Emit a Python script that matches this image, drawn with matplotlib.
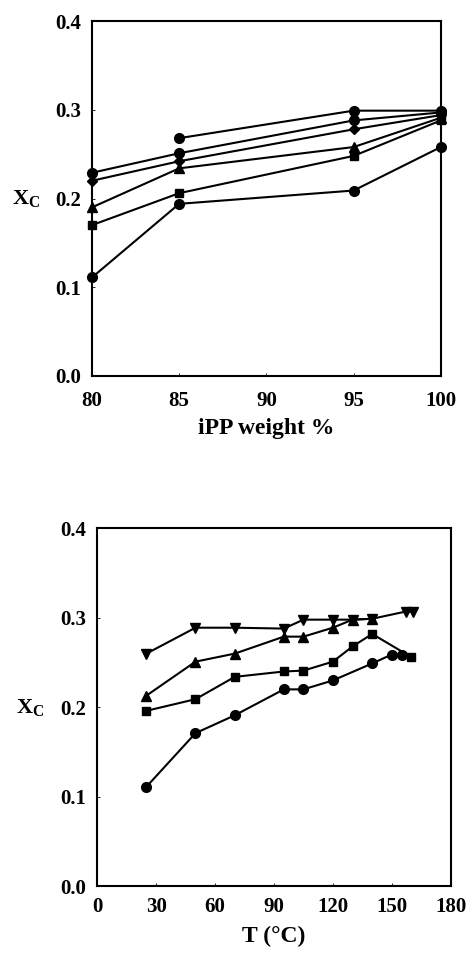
import matplotlib
matplotlib.use('Agg')
import matplotlib.pyplot as plt

plt.rcParams['font.family'] = ['Liberation Serif', 'DejaVu Serif']
plt.rcParams['font.weight'] = 'bold'
plt.rcParams['mathtext.fontset'] = 'custom'
plt.rcParams['mathtext.rm'] = 'Liberation Serif:bold'
plt.rcParams['mathtext.it'] = 'Liberation Serif:bold'
plt.rcParams['mathtext.bf'] = 'Liberation Serif:bold'

# Top panel: crystallinity vs iPP content
wt = [80, 85, 95, 100]
top_series = [
    ('o', [None, 0.268, 0.299, 0.299]),
    ('o', [0.229, 0.251, 0.288, 0.297]),
    ('D', [0.220, 0.242, 0.278, 0.294]),
    ('^', [0.190, 0.234, 0.258, 0.291]),
    ('s', [0.170, 0.206, 0.248, 0.288]),
    ('o', [0.111, 0.194, 0.209, 0.258]),
]
wt_ticks = [80, 85, 90, 95, 100]

# Bottom panel: crystallinity vs temperature
t_down = [25, 50, 70, 95, 105, 120, 130, 140, 157, 161]
xc_down = [0.260, 0.289, 0.289, 0.288, 0.298, 0.298, 0.298, 0.299, 0.307, 0.307]
t_up = [25, 50, 70, 95, 105, 120, 130, 140]
xc_up = [0.213, 0.251, 0.260, 0.279, 0.279, 0.289, 0.298, 0.299]
t_sq = [25, 50, 70, 95, 105, 120, 130, 140, 160]
xc_sq = [0.196, 0.209, 0.234, 0.240, 0.241, 0.251, 0.268, 0.282, 0.256]
t_circ = [25, 50, 70, 95, 105, 120, 140, 150, 155]
xc_circ = [0.111, 0.171, 0.191, 0.220, 0.220, 0.230, 0.249, 0.259, 0.258]
t_ticks = [0, 30, 60, 90, 120, 150, 180]
xc_ticks = [0.0, 0.1, 0.2, 0.3, 0.4]

fig = plt.figure(figsize=(4.69, 9.56), dpi=100)
ax1 = fig.add_axes([0.196, 0.6067, 0.744, 0.3713])
ax2 = fig.add_axes([0.2075, 0.0732, 0.7535, 0.374])

msize = {'o': 7, 'D': 5.5, '^': 6.5, 's': 6, 'v': 6.5}

for mk, vals in top_series:
    xs = [x for x, v in zip(wt, vals) if v is not None]
    ys = [v for v in vals if v is not None]
    ax1.plot(xs, ys, color='black', lw=1.5, marker=mk, ms=msize[mk],
             clip_on=False, zorder=3)

ax2.plot(t_down, xc_down, color='black', lw=1.5, marker='v', ms=msize['v'], clip_on=False)
ax2.plot(t_up, xc_up, color='black', lw=1.5, marker='^', ms=msize['^'], clip_on=False)
ax2.plot(t_circ, xc_circ, color='black', lw=1.5, marker='o', ms=msize['o'], clip_on=False)
ax2.plot(t_sq, xc_sq, color='black', lw=1.5, marker='s', ms=msize['s'], clip_on=False)

ax1.set_xlim(80, 100)
ax1.set_xticks(wt_ticks)
ax2.set_xlim(0, 180)
ax2.set_xticks(t_ticks)

for ax in (ax1, ax2):
    ax.set_ylim(0, 0.4)
    ax.set_yticks(xc_ticks)
    ax.set_yticklabels(['%.1f' % v for v in xc_ticks])
    for s in ax.spines.values():
        s.set_linewidth(1.5)
    ax.tick_params(direction='in', length=2, width=0.6, labelsize=15)
    ax.tick_params(axis='y', pad=8)
    ax.text(-0.19, 0.2, r'X$_{\mathrm{C}}$', transform=ax.get_yaxis_transform(),
            fontsize=16, ha='center', va='center')

ax1.tick_params(axis='x', pad=11)
ax2.tick_params(axis='x', pad=8)
ax1.set_xlabel('iPP weight %', fontsize=17, fontweight='bold', labelpad=5)
ax2.set_xlabel('T (°C)', fontsize=17, fontweight='bold', labelpad=6)

fig.savefig('out.png', dpi=100)
